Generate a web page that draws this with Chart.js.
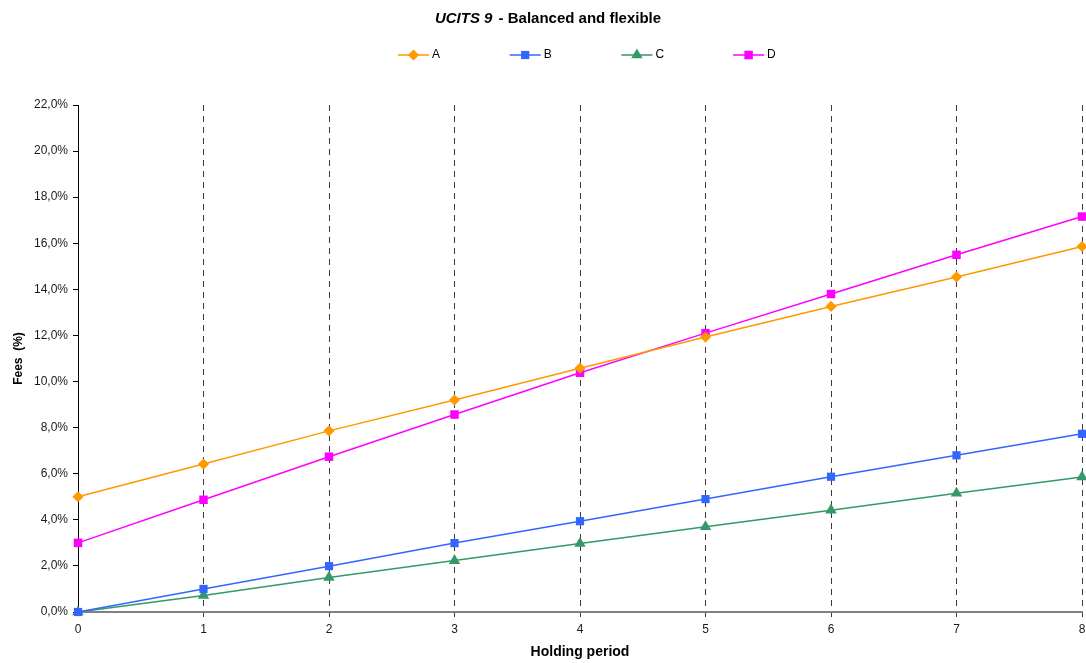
<!DOCTYPE html>
<html>
<head>
<meta charset="utf-8">
<title>UCITS 9 - Balanced and flexible</title>
<script src="https://cdn.jsdelivr.net/npm/chart.js@4.4.1/dist/chart.umd.min.js"></script>
<style>
  html, body { margin: 0; padding: 0; background: #ffffff; }
  #wrap { width: 1086px; height: 663px; }
</style>
</head>
<body>
<div id="wrap"><canvas id="chart" width="1086" height="663"></canvas></div>
<script>
// Holding periods (years) on the x axis
const periods = ['0', '1', '2', '3', '4', '5', '6', '7', '8'];

// Cumulative fees (%) for each share class
const feesA = [5.00, 6.42, 7.86, 9.20, 10.58, 11.93, 13.26, 14.54, 15.86];
const feesB = [0.00, 1.00, 1.99, 2.99, 3.94, 4.90, 5.87, 6.80, 7.73];
const feesC = [0.00, 0.72, 1.50, 2.23, 2.97, 3.70, 4.42, 5.15, 5.86];
const feesD = [3.00, 4.87, 6.74, 8.57, 10.38, 12.10, 13.80, 15.50, 17.16];

const seriesNames = ['A', 'B', 'C', 'D'];
const seriesValues = [feesA, feesB, feesC, feesD];
const seriesColors = ['#FF9900', '#3366FF', '#339966', '#FF00FF'];
const seriesMarkers = ['rectRot', 'rect', 'triangle', 'rect'];
const markerRadius = [5.6, 5.8, 6.6, 6.0];

const titleMain = 'UCITS 9';
const titleRest = ' - Balanced and flexible';
const FONT = "'Liberation Sans', Arial, Helvetica, sans-serif";

Chart.defaults.font.family = FONT;
Chart.defaults.color = '#1a1a1a';

function fmtPercent(v) {
  return Number(v).toFixed(1).replace('.', ',') + '%';
}

// Key markers: use the library's own point drawing when it is exposed
function drawMarker(ctx, style, x, y, r) {
  if (Chart.helpers && Chart.helpers.drawPoint) {
    Chart.helpers.drawPoint(ctx, { pointStyle: style, radius: r, borderWidth: 0, rotation: 0 }, x, y);
    return;
  }
  ctx.beginPath();
  const s = Math.SQRT1_2 * r;
  if (style === 'rect') {
    ctx.rect(x - s, y - s, 2 * s, 2 * s);
  } else if (style === 'rectRot') {
    ctx.moveTo(x, y - r);
    ctx.lineTo(x + r, y);
    ctx.lineTo(x, y + r);
    ctx.lineTo(x - r, y);
    ctx.closePath();
  } else if (style === 'triangle') {
    ctx.moveTo(x, y - r);
    ctx.lineTo(x + r * Math.sin(2 * Math.PI / 3), y - r * Math.cos(2 * Math.PI / 3));
    ctx.lineTo(x - r * Math.sin(2 * Math.PI / 3), y - r * Math.cos(2 * Math.PI / 3));
    ctx.closePath();
  }
  ctx.fill();
}

// Title (mixed italic / upright) and a line-plus-marker key above the plot
const headerPlugin = {
  id: 'header',
  afterDraw(chart) {
    const { ctx, chartArea } = chart;
    ctx.save();
    ctx.fillStyle = '#000000';
    ctx.textBaseline = 'middle';
    ctx.textAlign = 'left';
    const fMain = 'italic bold 15px ' + FONT;
    const fRest = 'bold 15px ' + FONT;
    ctx.font = fMain;
    const w1 = ctx.measureText(titleMain).width + 2;
    ctx.font = fRest;
    const w2 = ctx.measureText(titleRest).width;
    const tx = chart.width / 2 + 5 - (w1 + w2) / 2;
    ctx.font = fMain;
    ctx.fillText(titleMain, tx, 19);
    ctx.font = fRest;
    ctx.fillText(titleRest, tx + w1, 19);

    const keyY = 55;
    const keyStart = chartArea.left + 320;
    const keyStep = 111.7;
    const lineLen = 31;
    chart.data.datasets.forEach((ds, i) => {
      const x0 = keyStart + i * keyStep;
      ctx.strokeStyle = ds.borderColor;
      ctx.lineWidth = 1.5;
      ctx.beginPath();
      ctx.moveTo(x0, keyY);
      ctx.lineTo(x0 + lineLen, keyY);
      ctx.stroke();
      ctx.fillStyle = ds.borderColor;
      ctx.strokeStyle = ds.borderColor;
      drawMarker(ctx, ds.pointStyle, x0 + lineLen / 2, keyY, ds.pointRadius);
      ctx.fillStyle = '#000000';
      ctx.font = '12px ' + FONT;
      ctx.fillText(ds.label, x0 + lineLen + 3, keyY);
    });
    ctx.restore();
  }
};

const datasets = seriesNames.map((name, i) => ({
  label: name,
  data: seriesValues[i],
  borderColor: seriesColors[i],
  backgroundColor: seriesColors[i],
  borderWidth: 1.5,
  pointStyle: seriesMarkers[i],
  pointRadius: markerRadius[i],
  pointBorderWidth: 0,
  pointBackgroundColor: seriesColors[i],
  pointHoverRadius: markerRadius[i],
  tension: 0,
  clip: false
}));

new Chart(document.getElementById('chart'), {
  type: 'line',
  data: { labels: periods, datasets: datasets },
  plugins: [headerPlugin],
  options: {
    responsive: false,
    animation: false,
    devicePixelRatio: 1,
    layout: { autoPadding: false, padding: { top: 105, left: 4, right: 4, bottom: 0 } },
    plugins: {
      legend: { display: false },
      title: { display: false },
      tooltip: { enabled: false }
    },
    scales: {
      x: {
        type: 'category',
        offset: false,
        afterFit: (s) => { s.height = 51; s.paddingLeft = 0; s.paddingRight = 0; },
        grid: {
          display: true,
          drawOnChartArea: true,
          drawTicks: true,
          tickLength: 5,
          lineWidth: 1,
          color: (c) => (c.index === 0 ? 'rgba(0,0,0,0)' : '#3a3a3a'),
          tickColor: (c) => (c.index === 0 ? 'rgba(0,0,0,0)' : '#3a3a3a')
        },
        border: { display: true, color: '#808080', width: 2, dash: [6, 5] },
        ticks: {
          padding: 5,
          color: '#1a1a1a',
          font: { size: 12 },
          maxRotation: 0,
          autoSkip: false
        },
        title: {
          display: true,
          text: 'Holding period',
          color: '#000000',
          font: { size: 14, weight: 'bold' },
          padding: { top: 0, bottom: 2 }
        }
      },
      y: {
        min: 0,
        max: 22,
        afterFit: (s) => { s.width = 74; },
        grid: {
          display: true,
          drawOnChartArea: false,
          drawTicks: true,
          tickLength: 5,
          tickColor: '#000000'
        },
        border: { display: true, color: '#000000', width: 1 },
        ticks: {
          stepSize: 2,
          padding: 5,
          color: '#1a1a1a',
          font: { size: 12 },
          callback: (v) => fmtPercent(v)
        },
        title: {
          display: true,
          text: 'Fees  (%)',
          color: '#000000',
          font: { size: 12, weight: 'bold' },
          padding: { top: 7, bottom: 4 }
        }
      }
    }
  }
});
</script>
</body>
</html>
